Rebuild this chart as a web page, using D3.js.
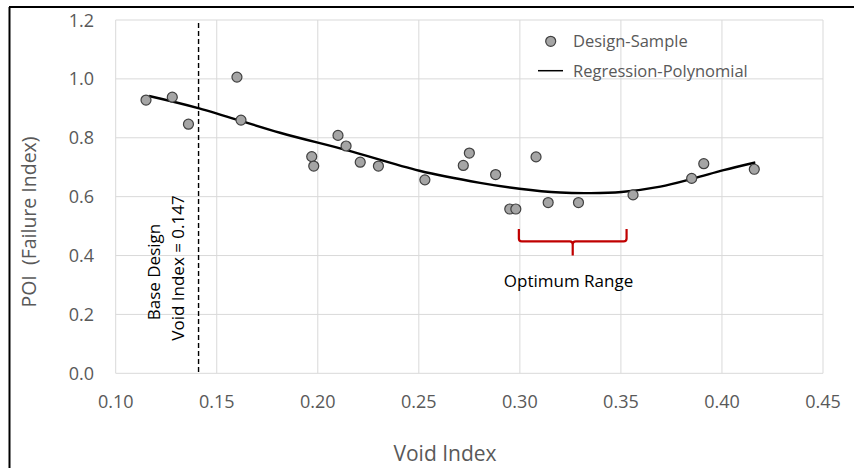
<!DOCTYPE html>
<html>
<head>
<meta charset="utf-8">
<script src="https://cdn.jsdelivr.net/npm/d3@7"></script>
<style>
  body { margin: 0; background: #fff; }
  svg { font-family: "Open Sans", sans-serif; }
</style>
</head>
<body>
<svg id="chart" width="854" height="468"></svg>
<script>
// design samples
const sampleX = [0.115, 0.128, 0.136, 0.160, 0.162, 0.197, 0.198, 0.210, 0.214, 0.221, 0.230,
                 0.253, 0.272, 0.275, 0.288, 0.295, 0.298, 0.308, 0.314, 0.329, 0.356, 0.385, 0.391, 0.416];
const sampleY = [0.928, 0.938, 0.846, 1.006, 0.860, 0.736, 0.704, 0.808, 0.772, 0.717, 0.704,
                 0.657, 0.706, 0.748, 0.675, 0.558, 0.558, 0.735, 0.580, 0.580, 0.606, 0.662, 0.712, 0.693];
// regression curve, sampled along the drawn line
const fitX = [0.1165, 0.1413, 0.1813, 0.2143, 0.2503, 0.2803, 0.2998, 0.32, 0.335, 0.3503, 0.3695, 0.386, 0.4008, 0.4165];
const fitY = [0.942, 0.900, 0.817, 0.758, 0.688, 0.647, 0.627, 0.614, 0.612, 0.616, 0.634, 0.662, 0.690, 0.716];
const xTicks = [0.10, 0.15, 0.20, 0.25, 0.30, 0.35, 0.40, 0.45];
const yTicks = [0.0, 0.2, 0.4, 0.6, 0.8, 1.0, 1.2];
const baseX = 0.141;
const optRange = [0.2995, 0.3528];

const svg = d3.select('#chart');
const x = d3.scaleLinear().domain([0.10, 0.45]).range([115.7, 823]);
const y = d3.scaleLinear().domain([0, 1.2]).range([373.3, 20]);

// frame
svg.append('line').attr('x1', 9.5).attr('x2', 9.5).attr('y1', 7).attr('y2', 468)
    .attr('stroke', '#000').attr('stroke-width', 2);
svg.append('line').attr('x1', 9).attr('x2', 854).attr('y1', 7).attr('y2', 7)
    .attr('stroke', '#000').attr('stroke-width', 2);

// grid
svg.append('g').selectAll('line').data(xTicks).enter().append('line')
    .attr('x1', d => x(d)).attr('x2', d => x(d)).attr('y1', y(1.2)).attr('y2', y(0))
    .attr('stroke', '#d9d9d9').attr('stroke-width', 1);
svg.append('g').selectAll('line').data(yTicks).enter().append('line')
    .attr('x1', x(0.10)).attr('x2', x(0.45)).attr('y1', d => y(d)).attr('y2', d => y(d))
    .attr('stroke', '#d9d9d9').attr('stroke-width', 1);

// tick labels
svg.append('g').selectAll('text').data(xTicks).enter().append('text')
    .attr('x', d => x(d)).attr('y', 408)
    .attr('text-anchor', 'middle').attr('fill', '#595959').style('font-size', '18px')
    .text(d => d.toFixed(2));
svg.append('g').selectAll('text').data(yTicks).enter().append('text')
    .attr('x', 94).attr('y', d => y(d) + 6.5)
    .attr('text-anchor', 'end').attr('fill', '#595959').style('font-size', '18px')
    .text(d => d.toFixed(1));

// axis titles
svg.append('text').attr('x', 445).attr('y', 461).attr('text-anchor', 'middle')
    .attr('fill', '#595959').style('font-size', '21px').text('Void Index');
svg.append('text').attr('transform', 'translate(36,222) rotate(-90)').attr('text-anchor', 'middle')
    .attr('fill', '#595959').style('font-size', '19.5px').style('white-space', 'pre')
    .text('POI  (Failure Index)');

// base design marker
svg.append('line').attr('x1', x(baseX)).attr('x2', x(baseX)).attr('y1', y(1.2) + 3).attr('y2', y(0))
    .attr('stroke', '#000').attr('stroke-width', 1.4).attr('stroke-dasharray', '5,3');
svg.append('text').attr('transform', `translate(159.5,272) rotate(-90)`).attr('text-anchor', 'middle')
    .attr('fill', '#000').style('font-size', '17px').text('Base Design');
svg.append('text').attr('transform', `translate(184,268) rotate(-90)`).attr('text-anchor', 'middle')
    .attr('fill', '#000').style('font-size', '17px').text('Void Index = 0.147');

// regression line
const fit = fitX.map((d, i) => [d, fitY[i]]);
svg.append('path').datum(fit)
    .attr('fill', 'none').attr('stroke', '#000').attr('stroke-width', 2.4)
    .attr('d', d3.line().x(d => x(d[0])).y(d => y(d[1])).curve(d3.curveCatmullRom));

// samples
svg.append('g').selectAll('circle').data(sampleX).enter().append('circle')
    .attr('cx', d => x(d)).attr('cy', (d, i) => y(sampleY[i])).attr('r', 5)
    .attr('fill', '#a5a5a5').attr('stroke', '#404040').attr('stroke-width', 1.2);

// optimum range brace
const bx0 = x(optRange[0]), bx1 = x(optRange[1]), bm = (bx0 + bx1) / 2;
const bTop = y(0.49), bMid = y(0.448), bTip = y(0.40);
svg.append('path')
    .attr('d', `M${bx0},${bTop} L${bx0},${bMid - 3} Q${bx0},${bMid} ${bx0 + 3},${bMid}
      L${bm - 3},${bMid} Q${bm},${bMid} ${bm},${bMid + 3} L${bm},${bTip}
      M${bm},${bMid + 3} Q${bm},${bMid} ${bm + 3},${bMid} L${bx1 - 3},${bMid}
      Q${bx1},${bMid} ${bx1},${bMid - 3} L${bx1},${bTop}`)
    .attr('fill', 'none').attr('stroke', '#c00000').attr('stroke-width', 2.2);
svg.append('text').attr('x', 568.5).attr('y', 287).attr('text-anchor', 'middle')
    .attr('fill', '#000').style('font-size', '17px').text('Optimum Range');

// legend
const lg = svg.append('g');
lg.append('circle').attr('cx', 550.7).attr('cy', 41.3).attr('r', 5)
    .attr('fill', '#a5a5a5').attr('stroke', '#404040').attr('stroke-width', 1.2);
lg.append('line').attr('x1', 538).attr('x2', 563).attr('y1', 70.7).attr('y2', 70.7)
    .attr('stroke', '#000').attr('stroke-width', 1.5);
lg.append('text').attr('x', 573).attr('y', 47).attr('fill', '#595959').style('font-size', '16.5px').text('Design-Sample');
lg.append('text').attr('x', 573).attr('y', 76.5).attr('fill', '#595959').style('font-size', '16.5px').text('Regression-Polynomial');
</script>
</body>
</html>
